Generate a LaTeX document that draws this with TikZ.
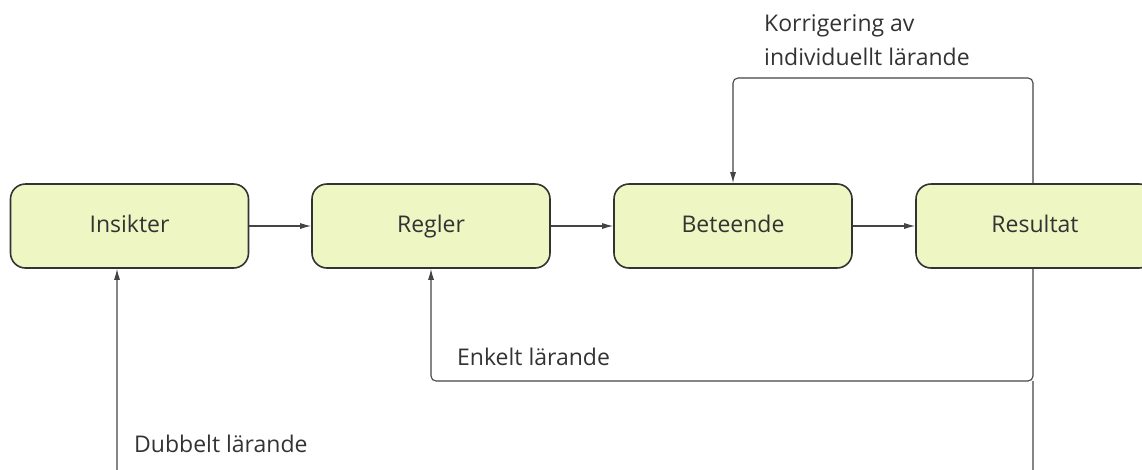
\documentclass[tikz,border=0pt]{standalone}
\usepackage{fontspec}
\setmainfont{Open Sans}
\usetikzlibrary{arrows.meta}
\definecolor{boxfill}{HTML}{EEF7C4}
\definecolor{boxline}{HTML}{333333}
\definecolor{txt}{HTML}{333333}
\definecolor{conn}{HTML}{444444}
\begin{document}
\begin{tikzpicture}[x=1pt,y=-1pt,
  stepbox/.style={draw=boxline,fill=boxfill,line width=1.6pt,rounded corners=15pt,
    minimum width=238pt,minimum height=84pt,inner sep=0pt,
    text height=16pt,text depth=4pt,
    font=\fontsize{23}{27}\selectfont,text=txt},
  lbl/.style={font=\fontsize{23}{34}\selectfont,text=txt,inner sep=0pt,anchor=west,align=left},
  conn/.style={draw=conn,line width=1.1pt,rounded corners=5pt},
  tip/.style={-{Latex[length=11pt,width=6pt]}}]
\useasboundingbox (0,0) rectangle (1142,469);
\clip (0,0) rectangle (1142,469);
\node[stepbox] (ins) at (129.5,226) {Insikter};
\node[stepbox] (reg) at (431,226) {Regler};
\node[stepbox] (bet) at (733,226) {Beteende};
\node[stepbox] (res) at (1035,226) {Resultat};
\coordinate (top) at (1033,78);
\coordinate (enk) at (1033,381);
\coordinate (bot) at (1033,490);
\draw[conn,tip] (ins) -- (reg);
\draw[conn,tip] (reg) -- (bet);
\draw[conn,tip] (bet) -- (res);
\draw[conn,tip] (res.north -| top) -- (top) -| (bet.north);
\draw[conn,tip] (res.south -| top) -- (enk) -| (reg.south);
\draw[conn,tip] (enk) -- (bot) -| ([xshift=-12.5pt]ins.south);
\node[lbl] (korr) at (764,40) {Korrigering av\\individuellt lärande};
\node[lbl] (enkl) at (457,357) {Enkelt lärande};
\node[lbl] (dubb) at (134,444) {Dubbelt lärande};
\end{tikzpicture}
\end{document}
